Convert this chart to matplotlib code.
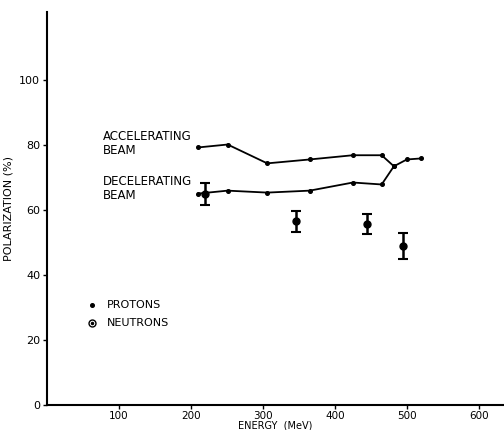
import matplotlib
matplotlib.use('Agg')
import matplotlib.pyplot as plt

# ---- data -------------------------------------------------------------------
acc_energy = [210, 251, 306, 365, 425, 465, 482, 500, 519]
acc_pol    = [79.3, 80.2, 74.4, 75.6, 76.9, 76.9, 73.5, 75.6, 75.9]

dec_energy = [210, 251, 306, 365, 425, 465, 482]
dec_pol    = [65.1, 66.0, 65.4, 66.0, 68.5, 67.9, 73.5]

neu_energy = [219, 346, 444, 494]
neu_pol    = [65.1, 56.5, 55.8, 49.1]
neu_err    = [3.4, 3.3, 3.1, 4.0]

xticks = [100, 200, 300, 400, 500, 600]
yticks = [0, 20, 40, 60, 80, 100]

# ---- style ------------------------------------------------------------------
plt.rcParams['font.family'] = ['DejaVu Sans']
plt.rcParams['font.size'] = 8

fig = plt.figure(figsize=(5.04, 4.30), dpi=100)
ax = fig.add_axes([0.0933, 0.0581, 0.9067, 0.914])

# proton curves
ax.plot(acc_energy, acc_pol, color='black', lw=1.3, marker='o', ms=2.6)
ax.plot(dec_energy, dec_pol, color='black', lw=1.3, marker='o', ms=2.6)

# neutrons
ax.errorbar(neu_energy, neu_pol, yerr=neu_err, fmt='o', color='black',
            ms=5, elinewidth=1.8, capsize=3.5, capthick=1.5)

# curve labels
ax.text(78, 84.8, 'ACCELERATING\nBEAM', fontsize=8.5, va='top', ha='left',
        linespacing=1.1)
ax.text(78, 70.8, 'DECELERATING\nBEAM', fontsize=8.5, va='top', ha='left',
        linespacing=1.1)

# hand-drawn style legend
ax.plot([62.5], [30.9], 'o', color='black', ms=2.6)
ax.text(83, 30.9, 'PROTONS', fontsize=8, va='center', ha='left')
ax.plot([62.5], [25.3], 'o', mfc='white', mec='black', ms=5, mew=1.0)
ax.plot([62.5], [25.3], 'o', color='black', ms=1.5)
ax.text(83, 25.3, 'NEUTRONS', fontsize=8, va='center', ha='left')

ax.set_xlim(0, 635)
ax.set_ylim(0, 121)
ax.set_xticks(xticks)
ax.set_yticks(yticks)
ax.tick_params(direction='out', length=3, width=1, labelsize=8, pad=2)
ax.tick_params(axis='x', labelsize=7.5, pad=1)

for s in ['top', 'right']:
    ax.spines[s].set_visible(False)
for s in ['left', 'bottom']:
    ax.spines[s].set_linewidth(1.5)

ax.set_ylabel('POLARIZATION (%)', fontsize=8, labelpad=4)
ax.set_xlabel('ENERGY  (MeV)', fontsize=7, labelpad=0)

plt.savefig('out.png', dpi=100)
